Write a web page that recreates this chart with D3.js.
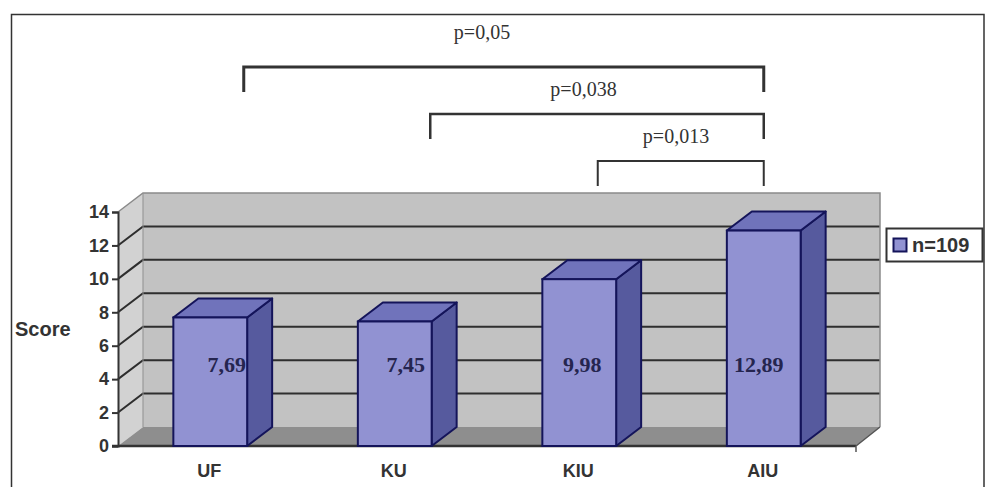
<!DOCTYPE html>
<html>
<head>
<meta charset="utf-8">
<script src="https://cdnjs.cloudflare.com/ajax/libs/d3/7.8.5/d3.min.js"></script>
<style>
  html, body { margin: 0; padding: 0; background: #fff; }
  svg { display: block; }
  .sans { font-family: "Liberation Sans", Arial, sans-serif; font-weight: bold; fill: #333; }
  .serif { font-family: "Liberation Serif", "Times New Roman", serif; }
</style>
</head>
<body>
<svg id="chart" width="985" height="487"></svg>
<script>
// Mean scores per group
const categories = ["UF", "KU", "KIU", "AIU"];
const scores = [7.69, 7.45, 9.98, 12.89];
const scoreLabels = ["7,69", "7,45", "9,98", "12,89"];
const yTicks = [0, 2, 4, 6, 8, 10, 12, 14];
const seriesName = "n=109";

// Significance brackets between groups
const bracketFrom = ["UF", "KU", "KIU"];
const bracketTo = ["AIU", "AIU", "AIU"];
const bracketLabels = ["p=0,05", "p=0,038", "p=0,013"];
const bracketLevels = [0, 1, 2];

const svg = d3.select("#chart");

const x = d3.scaleBand().domain(categories).range([118, 856]).paddingInner(0.6).paddingOuter(0.3);
const y = d3.scaleLinear().domain([0, 14]).range([446, 212]);
const depth = { dx: 25, dy: -19 };
const path = pts => "M" + pts.map(p => p.join(",")).join("L") + "Z";
const mid = d => x(d) + x.bandwidth() / 2;

// Outer frame
svg.append("path")
  .attr("d", "M11.5,487V14.5H984V487")
  .attr("fill", "none").attr("stroke", "#333").attr("stroke-width", 1.5);

// Walls and floor of the 3D plot box
const [x0, x1] = x.range();
const yB = y(0), yT = y(14);
svg.append("path").attr("fill", "#d2d2d2")
  .attr("d", path([[x0, yB], [x0, yT], [x0 + depth.dx, yT + depth.dy], [x0 + depth.dx, yB + depth.dy]]));
svg.append("rect").attr("fill", "#c2c2c2")
  .attr("x", x0 + depth.dx).attr("y", yT + depth.dy)
  .attr("width", x1 - x0 - 1).attr("height", yB - yT);
svg.append("path").attr("fill", "#8e8e8e")
  .attr("d", path([[x0, yB], [x0 + depth.dx, yB + depth.dy], [x1 + depth.dx - 1, yB + depth.dy], [x1, yB]]));

// Gridlines wrap from the axis across the side wall and along the back wall
svg.append("g").selectAll("path").data(yTicks.filter(t => t > 0 && t < 14)).join("path")
  .attr("fill", "none").attr("stroke", "#2e2e2e").attr("stroke-width", 2)
  .attr("d", t => `M${x0},${y(t)}L${x0 + depth.dx},${y(t) + depth.dy}H${x1 + depth.dx - 1}`);
svg.append("path").attr("fill", "none").attr("stroke", "#8a8a8a").attr("stroke-width", 1.5)
  .attr("d", `M${x0},${yT}L${x0 + depth.dx},${yT + depth.dy}H${x1 + depth.dx - 1}V${yB + depth.dy}`);
svg.append("path").attr("fill", "none").attr("stroke", "#8f8f8f").attr("stroke-width", 1)
  .attr("d", `M${x0 + depth.dx},${yT + depth.dy}V${yB + depth.dy}`);

// Axes
const yAxis = d3.axisLeft(y).tickValues(yTicks).tickSize(6).tickPadding(3);
const gy = svg.append("g").attr("transform", `translate(${x0},0)`).call(yAxis);
gy.selectAll("text").attr("class", "sans").style("font-size", "18px");
gy.selectAll("line").attr("stroke", "#333").attr("stroke-width", 2);
gy.select(".domain").attr("stroke", "#333").attr("stroke-width", 2);

svg.append("line").attr("x1", x0 - 6).attr("x2", x1).attr("y1", yB).attr("y2", yB)
  .attr("stroke", "#333").attr("stroke-width", 2.5);
svg.append("path").attr("fill", "none").attr("stroke", "#555").attr("stroke-width", 1.5)
  .attr("d", `M${x1},${yB + 6}V${yB}L${x1 + depth.dx - 1},${yB + depth.dy}`);

svg.append("g").selectAll("text").data(categories).join("text")
  .attr("class", "sans").style("font-size", "18px")
  .attr("text-anchor", "middle")
  .attr("x", d => mid(d) - 1).attr("y", 477)
  .text(d => d);

svg.append("text").attr("class", "sans").style("font-size", "20px")
  .attr("x", 15).attr("y", 336).text("Score");

// Bars: front, side and top faces
const bars = svg.append("g").selectAll("g").data(categories).join("g");
const edge = "#14145a";
bars.append("path").attr("fill", "#565a9e").attr("stroke", edge).attr("stroke-width", 2)
  .attr("stroke-linejoin", "round")
  .attr("d", (d, i) => {
    const r = x(d) + x.bandwidth(), t = y(scores[i]);
    return path([[r, yB], [r, t], [r + depth.dx, t + depth.dy], [r + depth.dx, yB + depth.dy]]);
  });
bars.append("path").attr("fill", "#7073bb").attr("stroke", edge).attr("stroke-width", 2)
  .attr("stroke-linejoin", "round")
  .attr("d", (d, i) => {
    const l = x(d), r = l + x.bandwidth(), t = y(scores[i]);
    return path([[l, t], [l + depth.dx, t + depth.dy], [r + depth.dx, t + depth.dy], [r, t]]);
  });
bars.append("rect").attr("fill", "#9192d2").attr("stroke", edge).attr("stroke-width", 2)
  .attr("x", d => x(d)).attr("width", x.bandwidth())
  .attr("y", (d, i) => y(scores[i])).attr("height", (d, i) => yB - y(scores[i]));

// Value labels
const labelNudge = [16.5, 11, 3, -5];
svg.append("g").selectAll("text").data(scoreLabels).join("text")
  .attr("class", "serif")
  .attr("font-weight", "bold").attr("font-size", 22).attr("fill", "#25254f")
  .attr("text-anchor", "middle")
  .attr("x", (d, i) => mid(categories[i]) + labelNudge[i])
  .attr("y", 372)
  .text(d => d);

// Legend
svg.append("rect").attr("x", 886.5).attr("y", 228.5).attr("width", 96).attr("height", 33)
  .attr("fill", "#fff").attr("stroke", "#333").attr("stroke-width", 2);
svg.append("rect").attr("x", 893.5).attr("y", 238.5).attr("width", 13).attr("height", 13)
  .attr("fill", "#9192d2").attr("stroke", edge).attr("stroke-width", 2);
svg.append("text").attr("class", "sans").style("font-size", "20px")
  .attr("x", 912).attr("y", 252).text(seriesName);

// Significance brackets start to the right of their group's centre
const bracketY = d3.scalePoint().domain(bracketLevels).range([67, 161]);
const bracketOffset = [33.5, 35.5, 18.5];
const bracketWeight = [3, 2.5, 2];
const bracketG = svg.append("g");
bracketG.selectAll("path").data(bracketLevels).join("path")
  .attr("fill", "none").attr("stroke", "#333")
  .attr("stroke-width", i => bracketWeight[i])
  .attr("d", i => {
    const left = mid(bracketFrom[i]) + bracketOffset[i], yy = bracketY(i);
    return `M${left},${yy + 25}V${yy}H${mid(bracketTo[i])}V${yy + 25}`;
  });
const bracketTextX = [482, 583.5, 676], bracketTextY = [39, 96, 143];
bracketG.selectAll("text").data(bracketLabels).join("text")
  .attr("class", "serif").attr("font-size", 20).attr("fill", "#333")
  .attr("text-anchor", "middle")
  .attr("x", (d, i) => bracketTextX[i]).attr("y", (d, i) => bracketTextY[i])
  .text(d => d);
</script>
</body>
</html>
